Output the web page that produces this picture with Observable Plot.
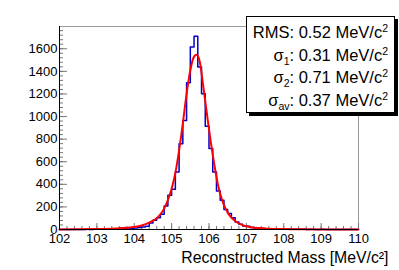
<!DOCTYPE html>
<html>
<head>
<meta charset="utf-8">
<script src="https://cdn.jsdelivr.net/npm/d3@7"></script>
<script src="https://cdn.jsdelivr.net/npm/@observablehq/plot@0.6"></script>
<style>
  html, body { margin: 0; padding: 0; background: #fff; }
  #wrap { position: relative; width: 399px; height: 270px; font-family: "Liberation Sans", Arial, sans-serif; }
  #legend {
    position: absolute; left: 246px; top: 16px; width: 149px; height: 97px;
    background: #fff; border: 1px solid #000; box-shadow: 3px 3px 0 #000;
    font-size: 16.5px; line-height: 22.5px; text-align: right; padding: 4px 6px 0 0; box-sizing: border-box;
    color: #000; white-space: nowrap;
  }
  #legend sup, #legend sub { font-size: 10.5px; line-height: 0; }
</style>
</head>
<body>
<div id="wrap"></div>
<script>
// Histogram: 0.1 MeV/c^2 bins from 102 to 110
const binLow = 102, binHigh = 110, binWidth = 0.1;
const counts = [
  0, 1, 0, 0, 1, 0, 1, 2, 1, 2,          // 102.0-102.9
  2, 3, 4, 3, 5, 6, 8, 7, 10, 12,        // 103.0-103.9
  14, 18, 22, 28, 58, 82, 103, 135, 209, 303, // 104.0-104.9
  356, 509, 760, 966, 1300, 1615, 1710, 1438, 1202, 913, // 105.0-105.9
  716, 509, 341, 259, 177, 141, 103, 67, 47, 32, // 106.0-106.9
  28, 18, 14, 10, 9, 7, 6, 5, 4, 5,      // 107.0-107.9
  3, 4, 2, 3, 2, 2, 1, 2, 1, 1,          // 108.0-108.9
  2, 1, 0, 1, 1, 0, 1, 0, 1, 0           // 109.0-109.9
];
// Fit curve
const fitMass = [102.0, 102.5, 103.0, 103.5, 103.8, 104.0, 104.2, 104.4, 104.5, 104.6, 104.7, 104.8, 104.9, 105.0, 105.1, 105.2, 105.3, 105.4, 105.5, 105.6, 105.67, 105.75, 105.85, 105.95, 106.05, 106.15, 106.25, 106.35, 106.45, 106.55, 106.7, 106.85, 107.0, 107.2, 107.5, 108.0, 108.5, 109.0, 110.0];
const fitCounts = [1, 2, 4, 9, 15, 22, 35, 60, 78, 100, 135, 185, 260, 360, 500, 700, 940, 1200, 1410, 1530, 1548, 1490, 1260, 1010, 770, 560, 380, 260, 180, 125, 75, 45, 28, 16, 9, 4, 2, 1, 0.5];
const xTicks = [102, 103, 104, 105, 106, 107, 108, 109, 110];
const yTicks = [0, 200, 400, 600, 800, 1000, 1200, 1400, 1600];
const xTitle = "Reconstructed Mass [MeV/c²]";
const legendLines = [
  "RMS: 0.52 MeV/c<sup>2</sup>",
  "σ<sub>1</sub>: 0.31 MeV/c<sup>2</sup>",
  "σ<sub>2</sub>: 0.71 MeV/c<sup>2</sup>",
  "σ<sub>av</sub>: 0.37 MeV/c<sup>2</sup>"
];

const hist = counts.map((c, i) => ({x: binLow + i * binWidth, y: c}));
hist.push({x: binHigh, y: counts[counts.length - 1]});
const fit = fitMass.map((m, i) => ({x: m, y: fitCounts[i]}));
const xMinor = d3.range(binLow, binHigh + 1e-9, 0.2).map(v => +v.toFixed(1));
const yMinor = d3.range(0, 1800, 40);

const W = 399, H = 270, ML = 59, MR = 41, MT = 26, MB = 41;
const FW = W - ML - MR, FH = H - MT - MB;

const chart = Plot.plot({
  width: W, height: H,
  marginLeft: ML, marginRight: MR, marginTop: MT, marginBottom: MB,
  style: {fontFamily: "Liberation Sans, Arial, sans-serif", fontSize: "13px", color: "#000", background: "#fff"},
  x: {domain: [binLow, binHigh], ticks: xTicks, tickSize: 0, tickPadding: 4, label: null, tickFormat: d => String(d)},
  y: {domain: [0, 1797], ticks: yTicks, tickSize: 0, tickPadding: 2, label: null, tickFormat: d => String(d)},
  marks: [
    Plot.frame({stroke: "#999", strokeWidth: 1}),
    Plot.tickY(yTicks, {y: d => d, stroke: "#777", insetRight: FW - 8}),
    Plot.tickY(yMinor, {y: d => d, stroke: "#777", insetRight: FW - 4}),
    Plot.tickX(xTicks, {x: d => d, stroke: "#777", insetTop: FH - 6}),
    Plot.tickX(xMinor, {x: d => d, stroke: "#777", insetTop: FH - 3}),
    Plot.line(hist, {x: "x", y: "y", curve: "step-after", stroke: "#0000cc", strokeWidth: 1.5}),
    Plot.line(fit, {x: "x", y: "y", curve: "monotone-x", stroke: "#ff0000", strokeWidth: 2}),
    Plot.ruleX([binLow], {stroke: "#000"}),
    Plot.ruleY([0], {stroke: "#000"}),
    Plot.text([xTitle], {frameAnchor: "bottom-right", dx: 30, dy: 33, text: d => d, fontSize: 15.8, textAnchor: "end", lineAnchor: "bottom"})
  ]
});
const wrap = document.getElementById("wrap");
wrap.appendChild(chart);
const leg = document.createElement("div");
leg.id = "legend";
leg.innerHTML = legendLines.join("<br>");
wrap.appendChild(leg);
</script>
</body>
</html>
